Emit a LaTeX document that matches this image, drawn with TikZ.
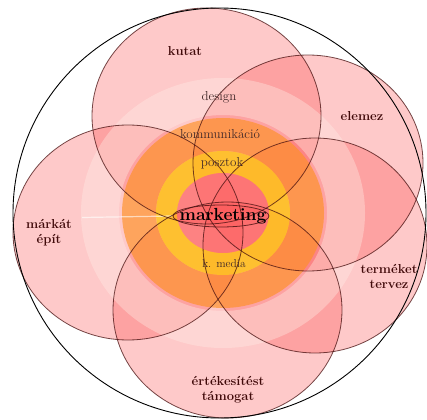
\documentclass[tikz,border=0pt]{standalone}
\usepackage{fontspec}
\begin{document}
\begin{tikzpicture}[x=1pt,y=-1pt,
  petal/.style={fill=petalpink,fill opacity=0.27},
  petalrim/.style={draw=rimbrown,draw opacity=0.75,line width=0.8pt},
  verb/.style={text=verbred,font=\bfseries\fontsize{13}{15}\selectfont,align=center,inner sep=0pt},
  layer/.style={text=layergray,font=\fontsize{13}{15}\selectfont,inner sep=0pt}]
\definecolor{petalpink}{RGB}{250,55,55}
\definecolor{rimbrown}{RGB}{70,15,15}
\definecolor{verbred}{RGB}{65,10,10}
\definecolor{layergray}{RGB}{65,40,40}
\definecolor{palering}{RGB}{255,238,230}
\definecolor{orangering}{RGB}{255,145,35}
\definecolor{yellowring}{RGB}{255,200,20}
\definecolor{corering}{RGB}{255,105,105}
\useasboundingbox (0,0) rectangle (427,419);

% centres of the five activity circles
\coordinate (ck) at (206.5,116);
\coordinate (ce) at (308,163);
\coordinate (ct) at (315,245.5);
\coordinate (cs) at (227.5,310);
\coordinate (cm) at (128,232.5);
\coordinate (cc) at (223,213);

% translucent fills of the activity circles
\fill[petal] (ck) ellipse (114.5 and 108);
\fill[petal] (ce) ellipse (115 and 108);
\fill[petal] (ct) ellipse (112 and 107.5);
\fill[petal] (cs) ellipse (114.5 and 108);
\fill[petal] (cm) ellipse (115 and 107.5);

% concentric layers around the core
\fill[palering,fill opacity=0.38,even odd rule] (cc) ellipse (142 and 135) (cc) ellipse (104 and 98);
\fill[orangering,fill opacity=0.65,even odd rule] (cc) ellipse (101 and 95) (cc) ellipse (67 and 62);
\fill[yellowring,fill opacity=0.8,even odd rule] (cc) ellipse (67 and 62) (cc) ellipse (46 and 40);
\fill[corering,fill opacity=0.55] (cc) ellipse (46 and 40);

% thin seam on the left of the layers
\draw[white,opacity=0.6,line width=1.2pt] (82,217.5) -- (172,216);

% core ellipse
\draw[rimbrown,fill=petalpink,fill opacity=0.12,draw opacity=0.8,line width=0.8pt] (221,216) ellipse (48 and 11);

% outlines of the activity circles
\draw[petalrim] (ck) ellipse (114.5 and 108);
\draw[petalrim] (ce) ellipse (115 and 108);
\draw[petalrim] (ct) ellipse (112 and 107.5);
\draw[petalrim] (cs) ellipse (114.5 and 108);
\draw[petalrim] (cm) ellipse (115 and 107.5);

% enclosing circle
\draw[black,line width=0.9pt] (219.5,213) ellipse (206.5 and 205);

% activity labels
\node[verb] (kutat) at (185,51) {kutat};
\node[verb] (elemez) at (362,116) {elemez};
\node[verb] (tervez) at (389,276.5) {terméket\\tervez};
\node[verb] (tamogat) at (228,389.5) {értékesítést\\támogat};
\node[verb] (epit) at (49,232.5) {márkát\\épít};

% layer labels
\node[layer] (design) at (219,97) {design};
\node[layer] (komm) at (220,134) {kommunikáció};
\node[layer] (poszt) at (222,163) {posztok};
\node[layer,font=\fontsize{11.5}{13}\selectfont] (media) at (224,264) {k. media};
\node[inner sep=0pt,font=\bfseries\fontsize{17.5}{20}\selectfont] (mkt) at (223,216) {marketing};
\end{tikzpicture}
\end{document}
